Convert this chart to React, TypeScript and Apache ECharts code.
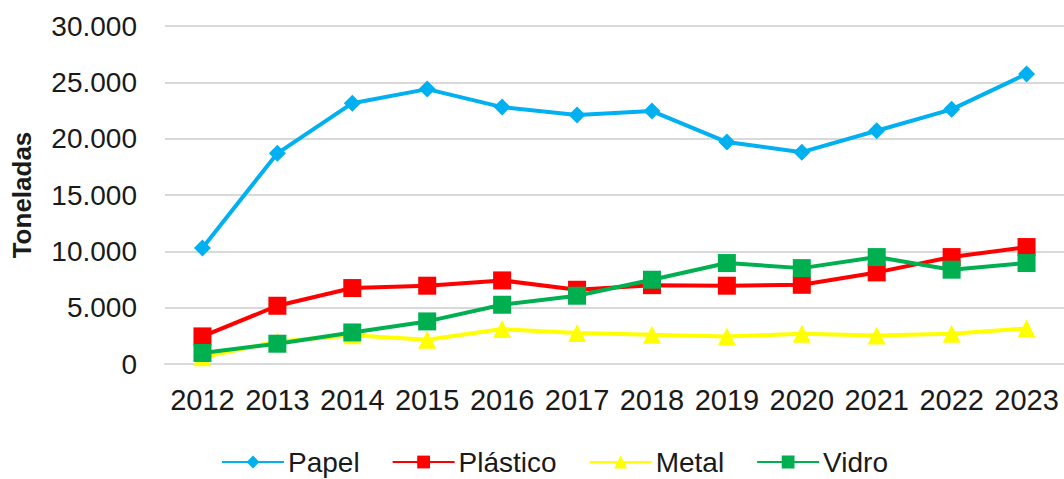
import React, { useEffect, useRef } from "react";
import * as echarts from "echarts";

const years = ["2012", "2013", "2014", "2015", "2016", "2017", "2018", "2019", "2020", "2021", "2022", "2023"];
const papel = [10300, 18700, 23150, 24400, 22800, 22100, 22450, 19700, 18800, 20700, 22600, 25750];
const plastico = [2450, 5170, 6740, 6950, 7420, 6590, 7000, 6950, 7030, 8130, 9490, 10380];
const metal = [600, 2000, 2550, 2150, 3100, 2750, 2600, 2450, 2690, 2540, 2690, 3160];
const vidro = [980, 1800, 2800, 3780, 5260, 6060, 7480, 8960, 8510, 9490, 8370, 8960];
const yTicks = { min: 0, max: 30000, interval: 5000 };

const FONT = "'Liberation Sans', Arial, sans-serif";

function fmt(v: number): string {
  return String(v).replace(/\B(?=(\d{3})+(?!\d))/g, ".");
}

export default function App() {
  const ref = useRef<HTMLDivElement>(null);
  useEffect(() => {
    document.body.style.margin = "0";
    if (!ref.current) return;
    const chart = echarts.init(ref.current, undefined, { renderer: "svg" });
    const mk = (name: string, data: number[], color: string, symbol: string, size: number) => ({
      name,
      type: "line",
      data,
      symbol,
      symbolSize: size,
      showAllSymbol: true,
      lineStyle: { color, width: 4 },
      itemStyle: { color, borderWidth: 0 },
      emphasis: { disabled: true },
    });
    chart.setOption({
      animation: false,
      textStyle: { fontFamily: FONT },
      grid: { left: 165, right: -4, top: 26, bottom: 115, containLabel: false },
      xAxis: {
        type: "category",
        data: years,
        boundaryGap: true,
        axisLine: { show: true, lineStyle: { color: "#d9d9d9", width: 2 } },
        axisTick: { show: false },
        axisLabel: { color: "#1a1a1a", fontSize: 29, margin: 21, fontFamily: FONT, interval: 0 },
        splitLine: { show: false },
      },
      yAxis: {
        type: "value",
        min: yTicks.min,
        max: yTicks.max,
        interval: yTicks.interval,
        axisLine: { show: false },
        axisTick: { show: false },
        axisLabel: { color: "#1a1a1a", fontSize: 28, margin: 28, fontFamily: FONT, formatter: (v: number) => fmt(v) },
        splitLine: { show: true, lineStyle: { color: "#d9d9d9", width: 2 } },
        name: "Toneladas",
        nameLocation: "middle",
        nameGap: 130,
        nameRotate: 90,
        nameTextStyle: { color: "#1a1a1a", fontSize: 26, fontWeight: "bold", fontFamily: FONT },
      },
      legend: {
        left: 221,
        top: 448,
        padding: 0,
        itemWidth: 62,
        itemHeight: 16,
        itemGap: 32,
        textStyle: { color: "#1a1a1a", fontSize: 28, fontFamily: FONT, padding: [0, 0, 0, -1] },
        data: ["Papel", "Plástico", "Metal", "Vidro"],
      },
      series: [
        mk("Papel", papel, "#00B0F0", "diamond", 17),
        mk("Plástico", plastico, "#FF0000", "rect", 18),
        mk("Metal", metal, "#FFFF00", "triangle", 18),
        mk("Vidro", vidro, "#00B050", "rect", 18),
      ],
    });
    return () => chart.dispose();
  }, []);
  return <div ref={ref} style={{ width: 1064, height: 479 }} />;
}
